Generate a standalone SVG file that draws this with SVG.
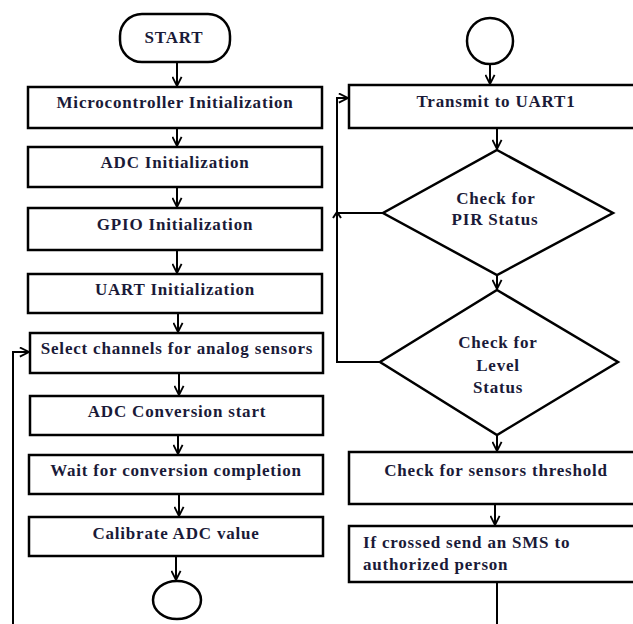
<svg xmlns="http://www.w3.org/2000/svg" width="633" height="624" viewBox="0 0 633 624">
<defs>
<marker id="arr" viewBox="0 0 12 12" refX="11" refY="6" markerWidth="11" markerHeight="11" markerUnits="userSpaceOnUse" orient="auto">
<path d="M1,1 L11,6 L1,11" fill="none" stroke="#000" stroke-width="2"/>
</marker>
<style>
.box{fill:#fff;stroke:#000;stroke-width:2.5}
.ln{fill:none;stroke:#000;stroke-width:2}
.t{font-family:"Liberation Serif","Times New Roman",serif;font-weight:bold;font-size:17px;letter-spacing:0.8px;fill:#1a1a38;text-anchor:middle}
.tl{text-anchor:start}
</style>
</defs>
<rect width="633" height="624" fill="#fff"/>
<g id="start"><rect class="box" x="120" y="14" width="110" height="48" rx="22"/><text class="t" x="174" y="43">START</text></g>
<g id="n1"><rect class="box" x="28" y="87" width="294" height="41"/><text class="t" x="175" y="108">Microcontroller Initialization</text></g>
<g id="n2"><rect class="box" x="28" y="147" width="294" height="40"/><text class="t" x="175" y="168">ADC Initialization</text></g>
<g id="n3"><rect class="box" x="28" y="208" width="294" height="42"/><text class="t" x="175" y="230">GPIO Initialization</text></g>
<g id="n4"><rect class="box" x="28" y="274" width="294" height="39"/><text class="t" x="175" y="295">UART Initialization</text></g>
<g id="n5"><rect class="box" x="30" y="333" width="293" height="40"/><text class="t" x="177" y="354">Select channels for analog sensors</text></g>
<g id="n6"><rect class="box" x="30" y="396" width="293" height="39"/><text class="t" x="177" y="417">ADC Conversion start</text></g>
<g id="n7"><rect class="box" x="29" y="455" width="294" height="39"/><text class="t" x="176" y="476">Wait for conversion completion</text></g>
<g id="n8"><rect class="box" x="29" y="517" width="294" height="39"/><text class="t" x="176" y="539">Calibrate ADC value</text></g>
<g id="end1"><ellipse class="box" cx="177" cy="600" rx="24" ry="19"/></g>
<g id="conn2"><circle class="box" cx="490" cy="41" r="23"/></g>
<g id="r1"><rect class="box" x="349" y="85" width="300" height="43"/><text class="t" x="496" y="107">Transmit to UART1</text></g>
<g id="d1"><polygon class="box" points="497,150 613,213 497,275 383,213"/><text class="t" x="496" y="204">Check for</text><text class="t" x="495" y="225">PIR Status</text></g>
<g id="d2"><polygon class="box" points="497,290 618,362 497,435 380,362"/><text class="t" x="498" y="348">Check for</text><text class="t" x="498" y="371">Level</text><text class="t" x="498" y="393">Status</text></g>
<g id="r2"><rect class="box" x="349" y="452" width="300" height="52"/><text class="t" x="496" y="476">Check for sensors threshold</text></g>
<g id="r3"><rect class="box" x="349" y="526" width="300" height="56"/><text class="t tl" x="363" y="548">If crossed send an SMS to</text><text class="t tl" x="363" y="570">authorized person</text></g>
<g id="connectors">
<line class="ln" x1="177" y1="62" x2="177" y2="86" marker-end="url(#arr)"/>
<line class="ln" x1="177" y1="128" x2="177" y2="146" marker-end="url(#arr)"/>
<line class="ln" x1="177" y1="187" x2="177" y2="207" marker-end="url(#arr)"/>
<line class="ln" x1="177" y1="250" x2="177" y2="273" marker-end="url(#arr)"/>
<line class="ln" x1="178" y1="313" x2="178" y2="332" marker-end="url(#arr)"/>
<line class="ln" x1="179" y1="373" x2="179" y2="395" marker-end="url(#arr)"/>
<line class="ln" x1="178" y1="435" x2="178" y2="454" marker-end="url(#arr)"/>
<line class="ln" x1="179" y1="494" x2="179" y2="516" marker-end="url(#arr)"/>
<line class="ln" x1="176" y1="556" x2="176" y2="580" marker-end="url(#arr)"/>
<polyline class="ln" points="13,624 13,352 29,352" marker-end="url(#arr)"/>
<line class="ln" x1="490" y1="64" x2="490" y2="84" marker-end="url(#arr)"/>
<line class="ln" x1="497" y1="128" x2="497" y2="149" marker-end="url(#arr)"/>
<line class="ln" x1="497" y1="275" x2="497" y2="289" marker-end="url(#arr)"/>
<line class="ln" x1="497" y1="435" x2="497" y2="451" marker-end="url(#arr)"/>
<line class="ln" x1="495" y1="504" x2="495" y2="525" marker-end="url(#arr)"/>
<polyline class="ln" points="380,362 337,362 337,98 348,98" marker-end="url(#arr)"/>
<line class="ln" x1="383" y1="213" x2="337" y2="213"/>
<path class="ln" d="M333,218 L337,212 L341,218"/>
<line class="ln" x1="497" y1="582" x2="497" y2="624"/>
</g>
</svg>
